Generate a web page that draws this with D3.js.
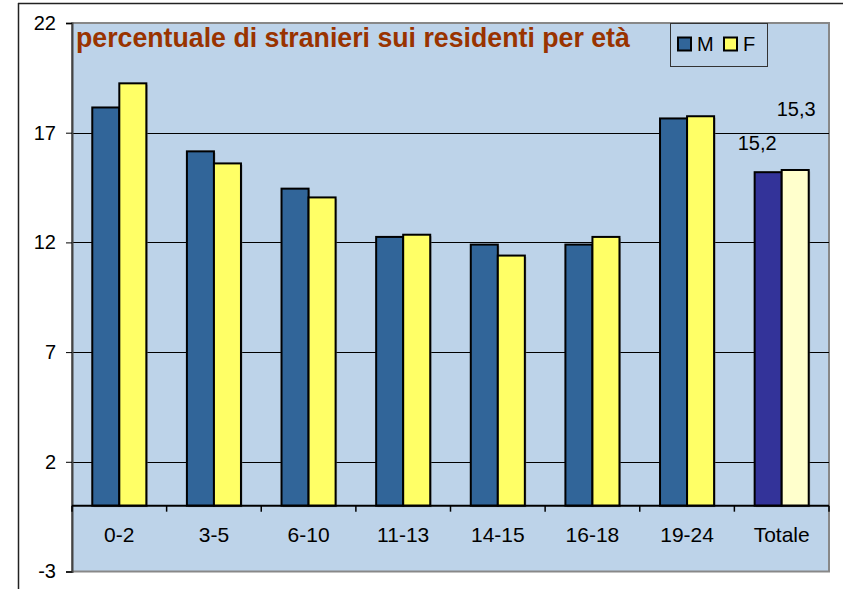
<!DOCTYPE html>
<html>
<head>
<meta charset="utf-8">
<script src="https://cdn.jsdelivr.net/npm/d3@7"></script>
<style>
  html, body { margin: 0; padding: 0; background: #fff; }
  svg { display: block; font-family: Arial, "Liberation Sans", sans-serif; }
</style>
</head>
<body>
<svg id="chart" width="843" height="589"></svg>
<script>
// ---- data ----
const categories = ["0-2", "3-5", "6-10", "11-13", "14-15", "16-18", "19-24", "Totale"];
const seriesNames = ["M", "F"];
const valuesM = [18.15, 16.15, 14.45, 12.25, 11.9, 11.9, 17.65, 15.2];
const valuesF = [19.25, 15.6, 14.05, 12.35, 11.4, 12.25, 17.75, 15.3];
const yTicks = [-3, 2, 7, 12, 17, 22];
const totalLabels = ["15,2", "15,3"];
const titleText = "percentuale di stranieri sui residenti per età";

// ---- layout ----
const svg = d3.select("#chart");
const plot = { left: 72, top: 23, right: 829, bottom: 571.5 };
const colors = { M: "#316599", F: "#FFFF66", totM: "#333399", totF: "#FFFFCC" };
const FS = 20;

// outer frame (top & left lines)
svg.append("line").attr("x1", 18).attr("y1", 3.5).attr("x2", 843).attr("y2", 3.5)
  .attr("stroke", "#222").attr("stroke-width", 1.5);
svg.append("line").attr("x1", 18.5).attr("y1", 3).attr("x2", 18.5).attr("y2", 589)
  .attr("stroke", "#222").attr("stroke-width", 1.5);

// plot background
svg.append("rect").attr("x", plot.left).attr("y", plot.top)
  .attr("width", plot.right - plot.left).attr("height", plot.bottom - plot.top)
  .attr("fill", "#BDD3E9").attr("stroke", "#888").attr("stroke-width", 2);

const x = d3.scaleBand().domain(categories).range([plot.left, plot.right]).paddingInner(0.4286).paddingOuter(0.2143);
const xs = d3.scaleBand().domain(seriesNames).range([0, x.bandwidth()]);
const y = d3.scaleLinear().domain([-3, 22]).range([plot.bottom, plot.top]);

// gridlines
svg.append("g").selectAll("line").data(yTicks.filter(t => t > -3 && t < 22)).join("line")
  .attr("x1", plot.left).attr("x2", plot.right)
  .attr("y1", d => Math.round(y(d)) + 0.5).attr("y2", d => Math.round(y(d)) + 0.5)
  .attr("stroke", "#000").attr("stroke-width", 1);

// bars
const data = categories.map((c, i) => ({ c, i, M: valuesM[i], F: valuesF[i] }));
const g = svg.append("g");
data.forEach(d => {
  seriesNames.forEach(s => {
    const v = d[s];
    const isTot = d.c === "Totale";
    const fill = isTot ? (s === "M" ? colors.totM : colors.totF) : colors[s];
    g.append("rect")
      .attr("x", x(d.c) + xs(s) + 1.5)
      .attr("y", y(v) + 1.5)
      .attr("width", xs.bandwidth())
      .attr("height", y(0) - y(v))
      .attr("fill", "#777").attr("opacity", 0.5);
    g.append("rect")
      .attr("x", x(d.c) + xs(s))
      .attr("y", y(v))
      .attr("width", xs.bandwidth())
      .attr("height", y(0) - y(v))
      .attr("fill", fill)
      .attr("stroke", "#000").attr("stroke-width", 2);
  });
});

// y axis
const yAxis = d3.axisLeft(y).tickValues(yTicks).tickSize(6).tickPadding(10).tickFormat(d => String(d));
const ya = svg.append("g").attr("transform", `translate(${plot.left},0)`).call(yAxis);
ya.select(".domain").attr("stroke", "#444").attr("stroke-width", 2);
ya.selectAll(".tick line").attr("stroke", "#000");
ya.selectAll("text").attr("font-size", FS).attr("font-family", "Arial, 'Liberation Sans', sans-serif").attr("fill", "#000");

// category axis at zero
const x0 = y(0);
const xAxisG = svg.append("g");
xAxisG.append("line").attr("x1", plot.left).attr("x2", plot.right)
  .attr("y1", x0).attr("y2", x0).attr("stroke", "#000").attr("stroke-width", 2);
const step = x.step();
const boundaries = d3.range(categories.length + 1).map(i => plot.left + i * step);
xAxisG.selectAll("line.tk").data(boundaries).join("line").attr("class", "tk")
  .attr("x1", d => d).attr("x2", d => d).attr("y1", x0).attr("y2", x0 + 6)
  .attr("stroke", "#000").attr("stroke-width", 1.5);
xAxisG.selectAll("text").data(categories).join("text")
  .attr("x", d => x(d) + x.bandwidth() / 2)
  .attr("y", 542)
  .attr("text-anchor", "middle")
  .attr("font-size", FS)
  .attr("transform-origin", d => `${x(d) + x.bandwidth() / 2} 542`)
  .attr("transform", "scale(1.05,1)")
  .text(d => d);

// title
const title = svg.append("text").attr("x", 76).attr("y", 47)
  .attr("font-weight", "bold").attr("fill", "#993300").attr("font-size", 22).text(titleText);
const tw = title.node().getComputedTextLength();
title.attr("font-size", 22 * 554 / tw);

// legend
const lg = svg.append("g");
lg.append("rect").attr("x", 670.5).attr("y", 23.5).attr("width", 97).attr("height", 43)
  .attr("fill", "#BDD3E9").attr("stroke", "#333").attr("stroke-width", 1);
const legendItems = [
  { name: "M", color: colors.M, sx: 678, tx: 697 },
  { name: "F", color: colors.F, sx: 724, tx: 743 }
];
legendItems.forEach(it => {
  lg.append("rect").attr("x", it.sx).attr("y", 37.5).attr("width", 13).attr("height", 13)
    .attr("fill", it.color).attr("stroke", "#000").attr("stroke-width", 2);
  lg.append("text").attr("x", it.tx).attr("y", 51).attr("font-size", FS).text(it.name);
});

// data labels for Totale
const tot = "Totale";
const labelOffsets = [{ dx: -11, dy: -22 }, { dx: 1, dy: -54 }];
seriesNames.forEach((s, i) => {
  const v = s === "M" ? valuesM[categories.indexOf(tot)] : valuesF[categories.indexOf(tot)];
  svg.append("text")
    .attr("x", x(tot) + xs(s) + xs.bandwidth() / 2 + labelOffsets[i].dx)
    .attr("y", y(v) + labelOffsets[i].dy)
    .attr("text-anchor", "middle").attr("font-size", FS)
    .text(totalLabels[i]);
});
</script>
</body>
</html>
